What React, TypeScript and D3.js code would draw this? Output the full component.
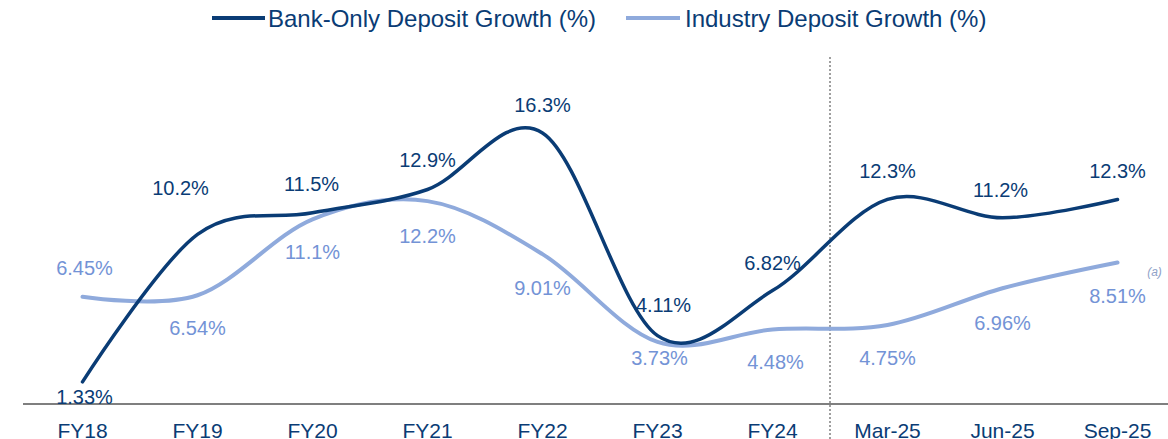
import React from "react";
import * as d3 from "d3";

const categories = ["FY18", "FY19", "FY20", "FY21", "FY22", "FY23", "FY24", "Mar-25", "Jun-25", "Sep-25"];
const bankValues = [1.33, 10.2, 11.5, 12.9, 16.3, 4.11, 6.82, 12.3, 11.2, 12.3];
const industryValues = [6.45, 6.54, 11.1, 12.2, 9.01, 3.73, 4.48, 4.75, 6.96, 8.51];
const bankLabels = ["1.33%", "10.2%", "11.5%", "12.9%", "16.3%", "4.11%", "6.82%", "12.3%", "11.2%", "12.3%"];
const industryLabels = ["6.45%", "6.54%", "11.1%", "12.2%", "9.01%", "3.73%", "4.48%", "4.75%", "6.96%", "8.51%"];
const seriesNames = ["Bank-Only Deposit Growth (%)", "Industry Deposit Growth (%)"];

// label layout offsets (dx, dy from point to text baseline)
const bankLabelOffsets: [number, number][] = [
  [2, 22], [-17, -39], [-1, -22], [0, -22], [0, -21], [6, -24], [0, -21], [0, -21], [-2, -21], [0, -21],
];
const industryLabelOffsets: [number, number][] = [
  [2, -22], [0, 40], [0, 40], [0, 42], [0, 41], [2, 23], [3, 40], [0, 40], [0, 42], [0, 41],
];

const W = 1168;
const H = 439;
const BANK = "#0A3C75";
const IND = "#8FAADC";
const IND_TEXT = "#7393D6";
const FONT = "'Liberation Sans', Arial, sans-serif";

export default function App() {
  const x = d3.scaleBand<string>().domain(categories).range([25, 1175]);
  const cx = (c: string) => (x(c) as number) + x.bandwidth() / 2;
  const y = d3.scaleLinear().domain([0, 20]).range([404, 71.4]);

  const line = d3
    .line<number>()
    .x((_, i) => cx(categories[i]))
    .y((v) => y(v))
    .curve(d3.curveCardinal.tension(0));

  const dividerX = (cx("FY24") + cx("Mar-25")) / 2;

  return (
    <svg
      width={W}
      height={H}
      style={{ position: "absolute", left: 0, top: 0, background: "#fff" }}
      fontFamily={FONT}
    >
      {/* legend */}
      <line x1={212} x2={265} y1={18} y2={18} stroke={BANK} strokeWidth={4} />
      <text x={268} y={27} fontSize={24} fill={BANK}>{seriesNames[0]}</text>
      <line x1={626} x2={680} y1={18} y2={18} stroke={IND} strokeWidth={4} />
      <text x={685} y={27} fontSize={24} fill={BANK}>{seriesNames[1]}</text>

      {/* divider */}
      <line x1={dividerX} x2={dividerX} y1={57} y2={H} stroke="#808080" strokeWidth={1.5} strokeDasharray="2,2" />

      {/* axis */}
      <line x1={23} x2={W} y1={y(0)} y2={y(0)} stroke="#7F7F7F" strokeWidth={2} />
      {categories.map((c) => (
        <text key={c} x={cx(c)} y={438} fontSize={21} fill={BANK} textAnchor="middle">{c}</text>
      ))}

      {/* lines */}
      <path d={line(industryValues) || ""} fill="none" stroke={IND} strokeWidth={4} strokeLinecap="round" />
      <path d={line(bankValues) || ""} fill="none" stroke={BANK} strokeWidth={3.5} strokeLinecap="round" />

      {/* labels */}
      {bankValues.map((v, i) => (
        <text
          key={"b" + i}
          x={cx(categories[i]) + bankLabelOffsets[i][0]}
          y={y(v) + bankLabelOffsets[i][1]}
          fontSize={20}
          fill={BANK}
          textAnchor="middle"
        >
          {bankLabels[i]}
        </text>
      ))}
      {industryValues.map((v, i) => (
        <text
          key={"i" + i}
          x={cx(categories[i]) + industryLabelOffsets[i][0]}
          y={y(v) + industryLabelOffsets[i][1]}
          fontSize={20}
          fill={IND_TEXT}
          textAnchor="middle"
        >
          {industryLabels[i]}
        </text>
      ))}
      <text
        x={cx("Sep-25") + 37}
        y={y(industryValues[9]) + 14}
        fontSize={12}
        fontStyle="italic"
        fill="#8FA2C8"
        textAnchor="middle"
      >
        (a)
      </text>
    </svg>
  );
}
